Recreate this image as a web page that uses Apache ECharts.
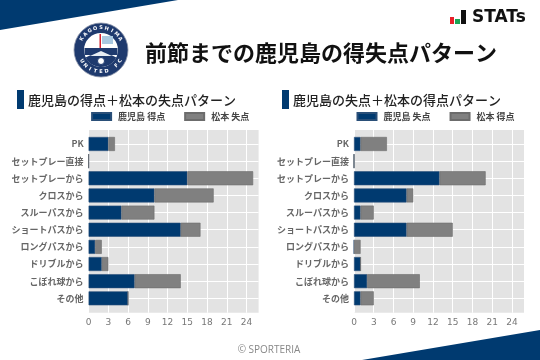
<!DOCTYPE html>
<html><head><meta charset="utf-8">
<style>html,body{margin:0;padding:0;background:#fff}#c{width:540px;height:360px}</style>
<script src="https://cdn.jsdelivr.net/npm/echarts@6/dist/echarts.min.js"></script>
</head><body><div id="c"></div>
<script>
const categories = ['PK','セットプレー直接','セットプレーから','クロスから','スルーパスから','ショートパスから','ロングパスから','ドリブルから','こぼれ球から','その他'];
const kagoshimaScored = [3,0,15,10,5,14,1,2,7,6];
const matsumotoConceded = [1,0,10,9,5,3,1,1,7,0];
const kagoshimaConceded = [1,0,13,8,1,8,0,1,2,1];
const matsumotoScored = [4,0,7,1,2,7,1,0,8,2];
const xTicks = [0,3,6,9,12,15,18,21,24];
const NAVY='#003a70', GREY='#808080', JP='"Noto Sans CJK JP"';
const XMAX=25.83;
const rowIdx = categories.map((_,i)=>i);

const grids=[], xAxes=[], yAxes=[], series=[], legends=[];
function panel(left, names, a, b){
  const bg=grids.length;
  grids.push({left,top:130,width:170,height:182.7,show:true,backgroundColor:'#e3e3e3',borderWidth:0});
  xAxes.push({type:'value',gridIndex:bg,min:0,max:XMAX,
    axisLine:{show:false},axisTick:{show:false,customValues:xTicks},
    splitLine:{show:true,lineStyle:{color:'#fff',width:1}},
    axisLabel:{customValues:xTicks,color:'#777',fontSize:9,fontFamily:'DejaVu Sans',margin:5}});
  yAxes.push({type:'value',gridIndex:bg,inverse:true,min:-0.81,max:9.84,
    axisLine:{show:false},axisLabel:{show:false},axisTick:{show:false,customValues:rowIdx},
    splitLine:{show:true,lineStyle:{color:'#fff',width:1}}});
  series.push({type:'scatter',xAxisIndex:bg,yAxisIndex:bg,data:[],silent:true});
  const g=grids.length;
  grids.push({left,top:135.4,width:170,height:171.5,show:false});
  xAxes.push({type:'value',gridIndex:g,min:0,max:XMAX,show:false});
  yAxes.push({type:'category',gridIndex:g,inverse:true,data:categories,
    axisLine:{show:false},axisTick:{show:false},splitLine:{show:false},
    axisLabel:{interval:0,color:'#666',fontSize:9,fontWeight:'bold',fontFamily:JP,margin:5}});
  [[names[0],a,NAVY,'#2a4f78'],[names[1],b,GREY,'#6c6c6c']].forEach(([name,data,color,bc])=>{
    series.push({type:'bar',name,data,stack:'s'+left,xAxisIndex:g,yAxisIndex:g,barWidth:14,
      itemStyle:{color,borderColor:bc,borderWidth:0.6},silent:true});
  });
  legends.push({data:names,left:left+2.5,top:112,itemWidth:19,itemHeight:7,itemGap:19,icon:'rect',
    selectedMode:false,padding:0,
    textStyle:{color:'#444',fontSize:9,fontWeight:'bold',fontFamily:JP,padding:[0,0,0,2]}});
}
panel(88.6,['鹿児島 得点','松本 失点'],kagoshimaScored,matsumotoConceded);
panel(354,['鹿児島 失点','松本 得点'],kagoshimaConceded,matsumotoScored);

const logoX=101, logoY=50;
const graphic=[
  {type:'polygon',shape:{points:[[0,0],[178,0],[0,30]]},style:{fill:NAVY}},
  {type:'polygon',shape:{points:[[362,360],[540,330],[540,360]]},style:{fill:NAVY}},
  {type:'text',x:145,y:53,style:{text:'前節までの鹿児島の得失点パターン',font:'bold 22px '+JP,fill:'#111',textVerticalAlign:'middle'}},
  {type:'rect',shape:{x:17,y:90,width:7,height:19},style:{fill:NAVY}},
  {type:'text',x:28,y:100,style:{text:'鹿児島の得点＋松本の失点パターン',font:'500 13px '+JP,fill:'#222',textVerticalAlign:'middle'}},
  {type:'rect',shape:{x:282,y:90,width:7,height:19},style:{fill:NAVY}},
  {type:'text',x:293,y:100,style:{text:'鹿児島の失点＋松本の得点パターン',font:'500 13px '+JP,fill:'#222',textVerticalAlign:'middle'}},
  {type:'text',x:269,y:350,style:{text:'© SPORTERIA',font:'10px "Open Sans"',fill:'#888',textAlign:'center',textVerticalAlign:'middle'}},
  // STATs mark
  {type:'rect',shape:{x:450,y:17,width:4,height:7},style:{fill:'#e8202a'}},
  {type:'rect',shape:{x:455,y:19,width:5,height:5},style:{fill:'#1aa655'}},
  {type:'rect',shape:{x:461,y:10,width:5,height:14},style:{fill:'#111'}},
  {type:'text',x:472,y:17.5,style:{text:'STATs',font:'bold 17px "DejaVu Sans"',fill:'#111',textVerticalAlign:'middle'}},
  // club crest
  {type:'circle',shape:{cx:logoX,cy:logoY,r:27},style:{fill:'#1f3a6e',stroke:'#8a93a8',lineWidth:0.8}},
  {type:'circle',shape:{cx:logoX,cy:logoY,r:17},style:{fill:'#fff'}},
  {type:'rect',shape:{x:84.5,y:48,width:33,height:7},style:{fill:'#1f3a6e'}},
  {type:'sector',shape:{cx:logoX,cy:logoY,r:17,r0:0,startAngle:0.45,endAngle:Math.PI-0.45},style:{fill:'#1f3a6e'}},
  {type:'polygon',shape:{points:[[90,56],[101,51],[112,56]]},style:{fill:'#e8edf3'}},
  {type:'rect',shape:{x:99.5,y:34,width:1.5,height:14},style:{fill:'#d3202f'}},
  {type:'rect',shape:{x:102,y:36,width:11,height:8},style:{fill:'#a9c8e0'}},
  {type:'circle',shape:{cx:logoX,cy:61,r:3.5},style:{fill:'#fff',stroke:'#1f3a6e',lineWidth:1}}
];
function arcText(str,r,startDeg,stepDeg,bottom){
  [...str].forEach((ch,i)=>{
    const deg=startDeg+i*stepDeg, t=deg*Math.PI/180;
    graphic.push({type:'text',x:logoX+r*Math.sin(t),y:logoY-r*Math.cos(t),
      rotation:bottom?-(t-Math.PI):-t,
      style:{text:ch,font:'bold 5px "DejaVu Sans"',fill:'#fff',textAlign:'center',textVerticalAlign:'middle'}});
  });
}
arcText('KAGOSHIMA',22,-60,15,false);
arcText('UNITED FC',22,240-360+360-0,-15,true);

const chart=echarts.init(document.getElementById('c'),null,{renderer:'canvas'});
chart.setOption({animation:false,backgroundColor:'#fff',grid:grids,xAxis:xAxes,yAxis:yAxes,series,legend:legends,graphic,tooltip:{show:false}});
</script></body></html>
